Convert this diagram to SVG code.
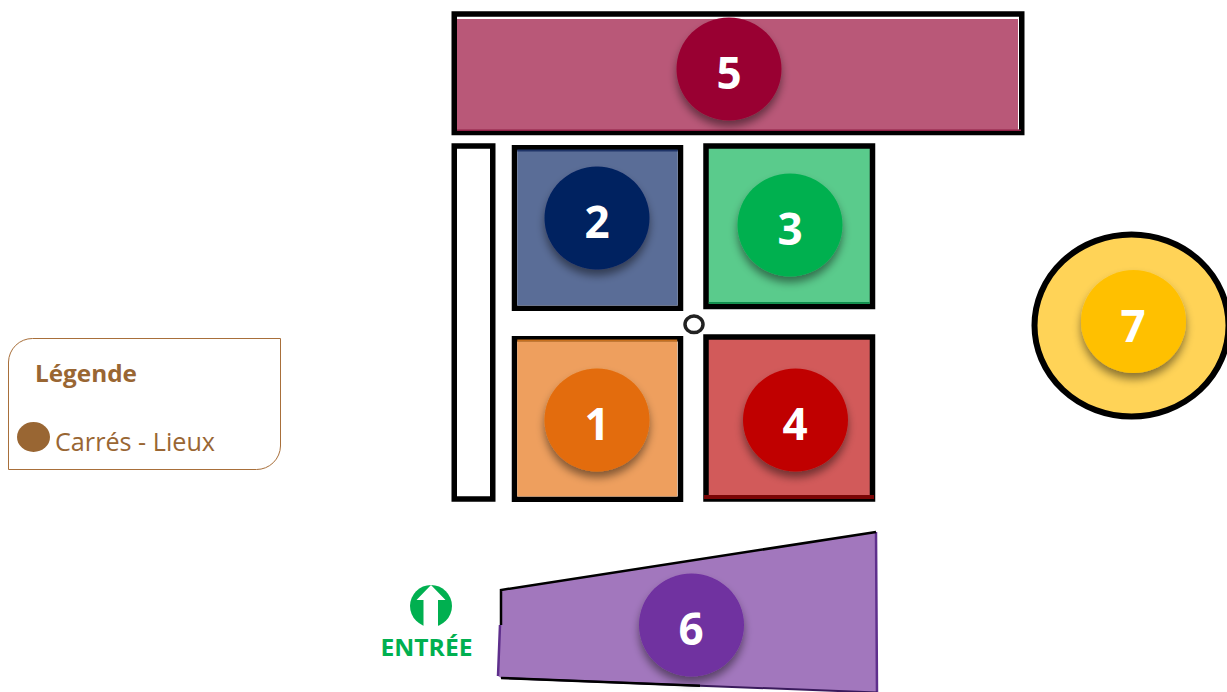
<svg xmlns="http://www.w3.org/2000/svg" width="1227" height="692" viewBox="0 0 1227 692">
  <style>
    .box { stroke: #000; stroke-width: 5.500; fill: #fff; }
    .num { font-family: "Open Sans", "Noto Sans", sans-serif; font-weight: 700; font-size: 44px; fill: #fff; text-anchor: middle; }
    .leg { font-family: "Open Sans", "Noto Sans", sans-serif; fill: #996633; }
  </style>
  <defs>
    <filter id="sh" x="-30%" y="-30%" width="160%" height="170%">
      <feDropShadow dx="0" dy="6" stdDeviation="4" flood-color="#000" flood-opacity="0.45"/>
    </filter>
  </defs>
  <g id="connectors"></g>
  <g id="legend">
    <path d="M8.500 469.500 V362 A24 24 0 0 1 32.500 338.500 H280.500 V446 A24 24 0 0 1 256.500 469.500 Z" fill="#fff" stroke="#A86F3A" stroke-width="1"/>
    <text class="leg" x="35" y="382" font-size="24" font-weight="700" textLength="102" lengthAdjust="spacingAndGlyphs">Légende</text>
    <ellipse cx="33.500" cy="437" rx="16.500" ry="15" fill="#996633"/>
    <text class="leg" x="55" y="451" font-size="25" textLength="160" lengthAdjust="spacingAndGlyphs">Carrés - Lieux</text>
  </g>
  <g id="node5">
    <rect class="box" x="454.250" y="14" width="567.500" height="118.500"/>
    <rect x="457" y="19" width="561" height="112" fill="#B95878"/>
    <rect x="457" y="129.500" width="564" height="1.500" fill="#8F1F45"/>
    <ellipse cx="729" cy="69" rx="52.500" ry="51.500" fill="#990033" filter="url(#sh)"/>
    <text class="num" x="729" y="89">5</text>
  </g>
  <g id="aisle">
    <rect class="box" x="454.250" y="146" width="38.500" height="353"/>
  </g>
  <g id="node2">
    <rect class="box" x="514.500" y="147.750" width="166" height="160.500"/>
    <rect x="517.250" y="150.500" width="160.500" height="155" fill="#5A6D97"/>
    <rect x="517.250" y="149.500" width="160.500" height="2" fill="#1F3468"/>
    <ellipse cx="597" cy="218" rx="52.500" ry="51.500" fill="#002060" filter="url(#sh)"/>
    <text class="num" x="597" y="238">2</text>
  </g>
  <g id="node3">
    <rect class="box" x="706" y="146" width="166.500" height="160.500" style="fill:#5ACB8C"/>
    <rect x="708.750" y="302" width="161" height="1.800" fill="#0E8F4C"/>
    <ellipse cx="790" cy="225" rx="52.500" ry="51.500" fill="#00B050" filter="url(#sh)"/>
    <text class="num" x="790" y="245">3</text>
  </g>
  <g id="node1">
    <rect class="box" x="514.500" y="338.750" width="166" height="160.500"/>
    <rect x="517.250" y="341.500" width="160" height="155" fill="#EE9F5E"/>
    <rect x="517.250" y="339.500" width="160" height="2.200" fill="#C8701E"/>
    <ellipse cx="597" cy="420" rx="52.500" ry="51.500" fill="#E36C0A" filter="url(#sh)"/>
    <text class="num" x="597" y="440">1</text>
  </g>
  <g id="node4">
    <rect class="box" x="706" y="337" width="166.500" height="162" style="fill:#D25A5A"/>
    <rect x="704" y="495" width="170" height="4" fill="#7A0505"/>
    <ellipse cx="795.500" cy="420" rx="52.500" ry="51.500" fill="#C00000" filter="url(#sh)"/>
    <text class="num" x="795" y="440">4</text>
  </g>
  <g id="marker">
    <ellipse cx="694" cy="324.300" rx="9" ry="8.300" fill="#fff" stroke="#222" stroke-width="3.500"/>
  </g>
  <g id="node6">
    <polygon points="502,590 876,532 877,692.500 501,678 498,676 500,625" fill="#A277BD"/>
    <path d="M877 692.500 L876 532 M498 676 L500 625" fill="none" stroke="#5E2F8C" stroke-width="2.500"/>
    <path d="M501 678 L877 692.500" fill="none" stroke="#3A1A5C" stroke-width="2"/>
    <path d="M501 678 L700 685.700" fill="none" stroke="#000" stroke-width="2.500"/>
    <path d="M501 625 L501 590 L876 532" fill="none" stroke="#000" stroke-width="2.500"/>
    <ellipse cx="691.500" cy="625" rx="52.500" ry="51.500" fill="#7030A0" filter="url(#sh)"/>
    <text class="num" x="691" y="645">6</text>
  </g>
  <g id="node7">
    <ellipse cx="1131.500" cy="325.500" rx="97" ry="91" fill="#FFD357" stroke="#000" stroke-width="6"/>
    <ellipse cx="1133.500" cy="321.500" rx="52.500" ry="51.500" fill="#FFC000" filter="url(#sh)"/>
    <text class="num" x="1133" y="342">7</text>
  </g>
  <g id="entree">
    <circle cx="431" cy="606" r="21" fill="#00B050"/>
    <path d="M431 585 L445.500 600 H438 V627.500 H423.500 V600 H416.500 Z" fill="#fff"/>
    <text x="426.500" y="656" font-family="Open Sans, Noto Sans, sans-serif" font-weight="700" font-size="23" fill="#00B050" text-anchor="middle" textLength="92" lengthAdjust="spacingAndGlyphs">ENTRÉE</text>
  </g>
</svg>
